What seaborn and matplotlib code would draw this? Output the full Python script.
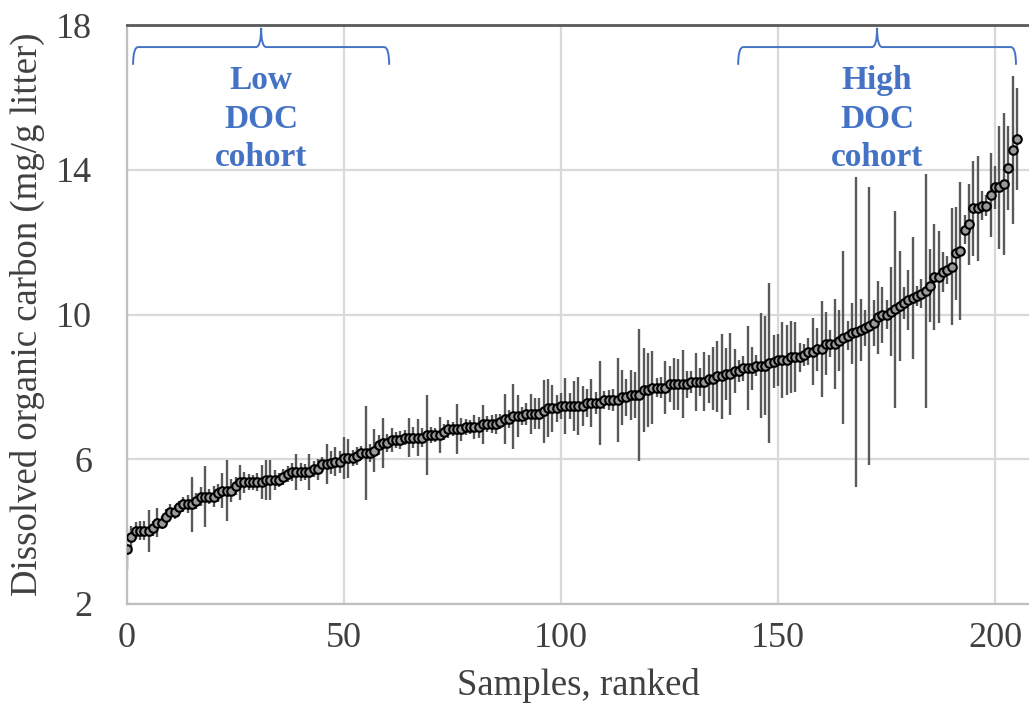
import numpy as np
import pandas as pd
import matplotlib
matplotlib.use("Agg")
import matplotlib.pyplot as plt
from matplotlib.path import Path
from matplotlib.patches import PathPatch
import seaborn as sns

# ---- data ----
doc_values = [
    3.51, 3.86, 4.03, 4.03, 4.03, 4.03, 4.09, 4.25, 4.25, 4.40,
    4.54, 4.54, 4.67, 4.76, 4.76, 4.76, 4.85, 4.97, 4.97, 4.97,
    4.97, 5.06, 5.13, 5.13, 5.13, 5.26, 5.36, 5.36, 5.36, 5.36,
    5.36, 5.36, 5.43, 5.43, 5.43, 5.43, 5.50, 5.59, 5.64, 5.64,
    5.64, 5.64, 5.64, 5.72, 5.72, 5.86, 5.86, 5.90, 5.93, 5.93,
    6.03, 6.03, 6.03, 6.09, 6.17, 6.17, 6.17, 6.24, 6.39, 6.46,
    6.46, 6.53, 6.53, 6.53, 6.60, 6.60, 6.60, 6.60, 6.60, 6.67,
    6.67, 6.67, 6.67, 6.75, 6.83, 6.83, 6.83, 6.83, 6.89, 6.89,
    6.89, 6.89, 6.97, 6.97, 6.97, 6.97, 7.04, 7.11, 7.11, 7.19,
    7.19, 7.19, 7.26, 7.26, 7.26, 7.26, 7.33, 7.41, 7.41, 7.41,
    7.47, 7.47, 7.47, 7.47, 7.47, 7.47, 7.55, 7.55, 7.55, 7.55,
    7.64, 7.64, 7.64, 7.64, 7.71, 7.71, 7.78, 7.78, 7.78, 7.91,
    7.91, 7.98, 7.98, 7.98, 7.98, 8.07, 8.07, 8.07, 8.07, 8.07,
    8.14, 8.14, 8.14, 8.14, 8.22, 8.22, 8.29, 8.29, 8.36, 8.36,
    8.44, 8.44, 8.51, 8.51, 8.51, 8.59, 8.59, 8.59, 8.66, 8.70,
    8.74, 8.74, 8.74, 8.82, 8.82, 8.82, 8.88, 8.97, 8.97, 9.04,
    9.04, 9.19, 9.19, 9.19, 9.28, 9.36, 9.41, 9.48, 9.52, 9.57,
    9.63, 9.68, 9.77, 9.92, 9.99, 9.99, 10.08, 10.14, 10.24, 10.31,
    10.40, 10.45, 10.51, 10.57, 10.66, 10.80, 11.03, 11.03, 11.17, 11.23,
    11.32, 11.69, 11.76, 12.34, 12.49, 12.93, 12.93, 13.01, 13.01, 13.30,
    13.51, 13.51, 13.61, 14.04, 14.55, 14.85,
]
doc_errors = [
    0.55, 0.30, 0.23, 0.25, 0.25, 0.58, 0.21, 0.41, 0.19, 0.23,
    0.23, 0.20, 0.17, 0.21, 0.25, 0.76, 0.23, 0.25, 0.83, 0.20,
    0.29, 0.25, 0.48, 0.84, 0.32, 0.25, 0.48, 0.30, 0.22, 0.20,
    0.25, 0.47, 0.55, 0.55, 0.28, 0.20, 0.22, 0.23, 0.25, 0.50,
    0.25, 0.22, 0.50, 0.22, 0.30, 0.20, 0.55, 0.32, 0.40, 0.30,
    0.58, 0.54, 0.23, 0.25, 0.20, 1.29, 0.25, 0.59, 0.28, 0.69,
    0.25, 0.32, 0.22, 0.25, 0.20, 0.54, 0.30, 0.52, 0.25, 1.10,
    0.22, 0.20, 0.50, 0.22, 0.25, 0.20, 0.69, 0.32, 0.22, 0.20,
    0.33, 0.29, 0.54, 0.22, 0.25, 0.28, 0.20, 0.69, 0.25, 0.90,
    0.58, 0.25, 0.30, 0.55, 0.42, 0.42, 0.87, 0.80, 0.65, 0.37,
    0.35, 0.77, 0.36, 0.69, 0.80, 0.56, 0.39, 0.66, 0.30, 1.17,
    0.25, 0.28, 0.30, 1.17, 0.77, 0.51, 0.70, 0.64, 1.83, 1.16,
    1.02, 1.00, 0.27, 0.30, 0.73, 0.50, 0.72, 0.70, 0.94, 0.38,
    0.30, 0.80, 0.38, 0.81, 0.67, 0.87, 0.99, 1.17, 0.71, 1.13,
    0.62, 0.30, 0.35, 1.16, 0.60, 0.30, 1.46, 1.38, 2.21, 0.74,
    0.72, 1.06, 0.96, 0.99, 0.96, 0.40, 0.30, 0.37, 0.92, 0.60,
    1.33, 0.87, 0.37, 1.25, 0.84, 2.39, 0.40, 0.85, 4.29, 0.85,
    0.50, 3.83, 0.64, 1.00, 0.78, 0.40, 1.24, 2.72, 1.52, 0.44,
    0.84, 1.69, 0.28, 0.40, 3.23, 1.00, 1.47, 1.27, 0.55, 0.40,
    1.62, 1.29, 1.90, 0.40, 1.13, 1.32, 1.44, 0.40, 0.30, 1.17,
    0.60, 1.69, 1.96, 1.16, 2.05, 1.42,
]
x_ticks = [0, 50, 100, 150, 200]
y_ticks = [2, 6, 10, 14, 18]
cohort_labels = ["Low\nDOC\ncohort", "High\nDOC\ncohort"]
cohort_centers = [30.9, 172.8]
cohort_spans = [(1.4, 60.4), (140.8, 204.8)]

df = pd.DataFrame({
    "rank": np.arange(len(doc_values)),
    "doc": doc_values,
    "err": doc_errors,
})

sns.set_theme(style="white")
plt.rcParams["font.family"] = ["Liberation Serif", "DejaVu Serif"]

fig = plt.figure(figsize=(10.29, 7.21), dpi=100)
ax = fig.add_axes([127 / 1029, 1 - 604 / 721, 1 - 127 / 1029, (604 - 25) / 721])

ax.errorbar(df["rank"], df["doc"], yerr=df["err"], fmt="none",
            ecolor="#595959", elinewidth=1.7, capsize=0, zorder=2)
sns.scatterplot(data=df, x="rank", y="doc", ax=ax, marker="o", s=38,
                color="#9a9a9a", edgecolor="black", linewidth=1.5, zorder=3,
                legend=False)

ax.set_xlim(0, 207.8)
ax.set_ylim(2, 18)
ax.set_xticks(x_ticks)
ax.set_yticks(y_ticks)
ax.grid(True, color="#d9d9d9", linewidth=1.6, zorder=0)
ax.set_axisbelow(True)

ax.spines["right"].set_visible(False)
ax.spines["top"].set_color("#595959")
ax.spines["top"].set_linewidth(2.0)
ax.spines["left"].set_color("#bfbfbf")
ax.spines["left"].set_linewidth(1.6)
ax.spines["bottom"].set_color("#bfbfbf")
ax.spines["bottom"].set_linewidth(1.6)

ax.tick_params(axis="both", length=0, labelsize=26, labelcolor="#404040")
ax.tick_params(axis="x", pad=13)
ax.tick_params(axis="y", pad=25)
ax.set_xlabel("Samples, ranked", fontsize=26.5, color="#404040", labelpad=9)
ax.set_ylabel("Dissolved organic carbon (mg/g litter)", fontsize=26.5,
              color="#404040", labelpad=8)

blue = "#4472C4"


def brace(x0, x1, xc, y_end=16.90, y_h=17.39, y_tip=17.92):
    dx = 1.2
    verts = [
        (x0, y_end), (x0, y_h), (x0 + dx, y_h),
        (xc - dx, y_h),
        (xc, y_h), (xc, y_tip),
        (xc, y_h), (xc + dx, y_h),
        (x1 - dx, y_h),
        (x1, y_h), (x1, y_end),
    ]
    codes = [Path.MOVETO, Path.CURVE3, Path.CURVE3,
             Path.LINETO,
             Path.CURVE3, Path.CURVE3,
             Path.CURVE3, Path.CURVE3,
             Path.LINETO,
             Path.CURVE3, Path.CURVE3]
    patch = PathPatch(Path(verts, codes), fill=False, edgecolor=blue,
                      linewidth=1.4, clip_on=False, zorder=4)
    ax.add_patch(patch)


for (x0, x1), xc, lab in zip(cohort_spans, cohort_centers, cohort_labels):
    brace(x0, x1, xc)
    ax.text(xc, 15.40, lab, ha="center", va="center", fontsize=24,
            fontweight="bold", color=blue, linespacing=1.3, zorder=4)

fig.savefig("out.png", dpi=100)
